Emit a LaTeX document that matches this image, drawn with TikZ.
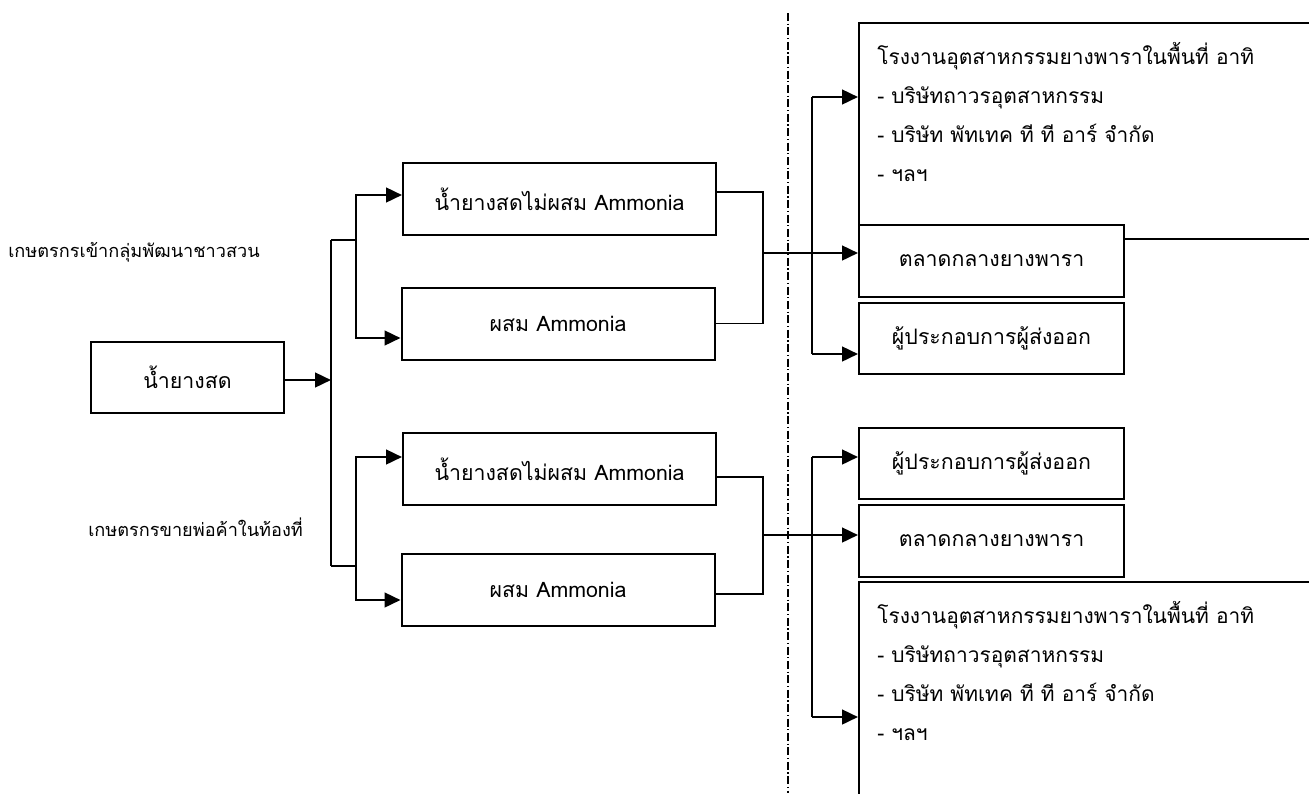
\documentclass[tikz,border=0pt]{standalone}
\usepackage{fontspec}
\newfontfamily\thai[Script=Thai]{Loma}
\usetikzlibrary{arrows.meta,calc}

\begin{document}
\begin{tikzpicture}[x=0.75pt,y=-0.75pt,
  box/.style={draw, line width=1.5pt, fill=white, inner sep=0pt,
    font=\thai\fontsize{16}{19}\selectfont},
  midbox/.style={box, minimum width=234.75pt, minimum height=54pt},
  outbox/.style={box, minimum width=198.75pt, minimum height=53.6pt},
  bigbox/.style={box, minimum width=339.75pt},
  listtxt/.style={font=\thai\fontsize{15.7}{29.25}\selectfont, align=left,
    anchor=north west, inner sep=0pt},
  lbl/.style={font=\thai\fontsize{13.6}{16}\selectfont, anchor=west, inner sep=0pt},
  arr/.style={line width=1.9pt, -{Triangle[length=12pt,width=11pt]}},
  ln/.style={line width=1.1pt},
  divider/.style={line width=1.2pt, dash pattern=on 6pt off 2pt on 0.8pt off 2pt}
  ]
  \useasboundingbox (0,0) rectangle (1309,793);

  % left side
  \node[box, minimum width=144.75pt, minimum height=53.25pt] (src) at (187.5,377.5) {น้ำยางสด};
  \node[lbl] (grpA) at (8,252) {เกษตรกรเข้ากลุ่มพัฒนาชาวสวน};
  \node[lbl] (grpB) at (88,527) {เกษตรกรขายพ่อค้าในท้องที่};

  \node[midbox] (A1) at (559.5,199) {น้ำยางสดไม่ผสม Ammonia};
  \node[midbox] (A2) at (558,323.5) {ผสม Ammonia};
  \node[midbox] (B1) at (559.5,469) {น้ำยางสดไม่ผสม Ammonia};
  \node[midbox] (B2) at (558,590) {ผสม Ammonia};

  \coordinate (split) at (331,380);
  \coordinate (jA) at (356,240);
  \coordinate (jB) at (356,566);

  \draw[arr] (src.east |- split) -- (split);
  \draw[ln] (331,240) -- (331,566);
  \draw[ln] (331,240) -- (jA);
  \draw[ln] (331,566) -- (jB);
  \draw[arr] (jA) |- ($(A1.west)+(0,-4)$);
  \draw[arr] (jA) |- ($(A2.west)+(0,14.5)$);
  \draw[arr] (jB) |- ($(B1.west)+(0,-12)$);
  \draw[arr] (jB) |- ($(B2.west)+(0,10)$);

  % right side
  \node[bigbox, minimum height=162pt] (R1) at (1085.5,131) {};
  \node[listtxt] (R1t) at ($(R1.north west)+(19,20)$)
    {โรงงานอุตสาหกรรมยางพาราในพื้นที่ อาทิ\\- บริษัทถาวรอุตสาหกรรม\\- บริษัท พัทเทค ที ที อาร์ จำกัด\\- ฯลฯ};
  \node[outbox] (R2) at (991.5,261) {ตลาดกลางยางพารา};
  \node[outbox] (R3) at (991.5,338.5) {ผู้ประกอบการผู้ส่งออก};

  \node[outbox] (R4) at (991.5,463.5) {ผู้ประกอบการผู้ส่งออก};
  \node[outbox] (R5) at (991.5,541) {ตลาดกลางยางพารา};
  \node[bigbox, minimum height=168.75pt] (R6) at (1085.5,694.5) {};
  \node[listtxt] (R6t) at ($(R6.north west)+(19,20)$)
    {โรงงานอุตสาหกรรมยางพาราในพื้นที่ อาทิ\\- บริษัทถาวรอุตสาหกรรม\\- บริษัท พัทเทค ที ที อาร์ จำกัด\\- ฯลฯ};

  \coordinate (mA) at (763,253);
  \coordinate (mB) at (763,535);
  \coordinate (hA) at (812,97);
  \coordinate (hB) at (812,457);

  \draw[ln] ($(A1.east)+(0,-7)$) -| (mA) |- (A2.east);
  \draw[ln] ($(B1.east)+(0,8)$) -| (mB) |- ($(B2.east)+(0,4)$);
  \draw[arr] (mA) -- (R2.west |- mA);
  \draw[arr] (mB) -- (R5.west |- mB);

  \draw[line width=1.9pt] (hA) -- (812,354);
  \draw[arr] (hA) -- (R1.west |- hA);
  \draw[arr] (812,354) -- (R3.west |- 812,354);
  \draw[line width=1.9pt] (hB) -- (812,717);
  \draw[arr] (hB) -- (R4.west |- hB);
  \draw[arr] (812,717) -- (R6.west |- 812,717);

  \draw[divider] (788,13) -- (788,793);
\end{tikzpicture}
\end{document}
